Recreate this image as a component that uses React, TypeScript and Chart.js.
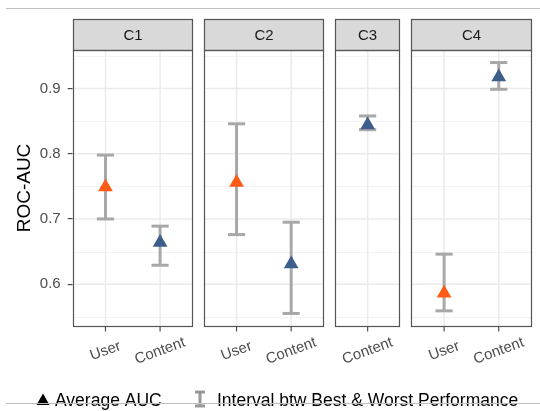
import React, { useEffect, useRef } from 'react';
import { Chart, registerables } from 'chart.js';

Chart.register(...registerables);

// ---------- data ----------
const panels = ['C1', 'C2', 'C3', 'C4'];
const categoryOrder = ['User', 'Content'];
const facet = ['C1', 'C1', 'C2', 'C2', 'C3', 'C4', 'C4'];
const source = ['User', 'Content', 'User', 'Content', 'Content', 'User', 'Content'];
const avgAUC = [0.749, 0.664, 0.756, 0.631, 0.844, 0.586, 0.918];
const bestAUC = [0.798, 0.689, 0.846, 0.695, 0.858, 0.646, 0.94];
const worstAUC = [0.7, 0.629, 0.676, 0.555, 0.837, 0.559, 0.899];
const yTicks = [0.6, 0.7, 0.8, 0.9];
const yTitle = 'ROC-AUC';
const legendLabels = ['Average AUC', 'Interval btw Best & Worst Performance'];
const groupColors: Record<string, string> = { User: '#FF5B17', Content: '#3D5D8A' };

// ---------- layout helpers ----------
const FONT = "'Liberation Sans', Arial, Helvetica, sans-serif";
const GAP = 0.2;
const EXPAND = 0.6;

type Range = { name: string; start: number; end: number; cats: { label: string; x: number }[] };

function buildLayout() {
  const ranges: Range[] = [];
  const xOf: number[] = new Array(facet.length);
  let cursor = 0;
  panels.forEach((p) => {
    const cats = categoryOrder.filter((c) => facet.some((f, i) => f === p && source[i] === c));
    const start = cursor;
    facet.forEach((f, i) => {
      if (f === p) xOf[i] = start + EXPAND + cats.indexOf(source[i]);
    });
    const end = start + (cats.length - 1) + 2 * EXPAND;
    ranges.push({ name: p, start, end, cats: cats.map((c, j) => ({ label: c, x: start + EXPAND + j })) });
    cursor = end + GAP;
  });
  return { ranges, xOf, xMax: cursor - GAP };
}

const layout = buildLayout();
const yLo = Math.min(...worstAUC);
const yHi = Math.max(...bestAUC);
const yPad = (yHi - yLo) * 0.05;
const yMin = yLo - yPad;
const yMax = yHi + yPad;
const minorTicks: number[] = [];
{
  const step = yTicks[1] - yTicks[0];
  minorTicks.push(yTicks[0] - step / 2);
  for (let i = 0; i < yTicks.length - 1; i++) minorTicks.push((yTicks[i] + yTicks[i + 1]) / 2);
  minorTicks.push(yTicks[yTicks.length - 1] + step / 2);
}

function line(ctx: CanvasRenderingContext2D, x1: number, y1: number, x2: number, y2: number) {
  ctx.beginPath();
  ctx.moveTo(x1, y1);
  ctx.lineTo(x2, y2);
  ctx.stroke();
}

const facetPlugin = {
  id: 'facets',
  beforeDatasetsDraw(chart: any) {
    const { ctx, chartArea: a, scales } = chart;
    const x = scales.x;
    const y = scales.y;
    ctx.save();
    layout.ranges.forEach((r) => {
      const x0 = x.getPixelForValue(r.start);
      const x1 = x.getPixelForValue(r.end);
      ctx.fillStyle = '#ffffff';
      ctx.fillRect(x0, a.top, x1 - x0, a.bottom - a.top);
      ctx.strokeStyle = '#f3f3f3';
      ctx.lineWidth = 1;
      minorTicks.forEach((v) => {
        const py = Math.round(y.getPixelForValue(v)) + 0.5;
        if (py > a.top && py < a.bottom) line(ctx, x0, py, x1, py);
      });
      ctx.strokeStyle = '#ebebeb';
      ctx.lineWidth = 1.5;
      yTicks.forEach((v) => {
        const py = y.getPixelForValue(v);
        line(ctx, x0, py, x1, py);
      });
      r.cats.forEach((c) => {
        const px = x.getPixelForValue(c.x);
        line(ctx, px, a.top, px, a.bottom);
      });
    });
    // error bars
    ctx.strokeStyle = '#a8a8a8';
    ctx.lineWidth = 3;
    ctx.lineCap = 'butt';
    facet.forEach((_, i) => {
      const px = x.getPixelForValue(layout.xOf[i]);
      const pt = y.getPixelForValue(bestAUC[i]);
      const pb = y.getPixelForValue(worstAUC[i]);
      line(ctx, px, pt, px, pb);
      line(ctx, px - 8.6, pt, px + 8.6, pt);
      line(ctx, px - 8.6, pb, px + 8.6, pb);
    });
    ctx.restore();
  },
  afterDatasetsDraw(chart: any) {
    const { ctx, chartArea: a, scales } = chart;
    const x = scales.x;
    ctx.save();
    const stripTop = 19.5;
    layout.ranges.forEach((r) => {
      const x0 = Math.round(x.getPixelForValue(r.start)) + 0.5;
      const x1 = Math.round(x.getPixelForValue(r.end)) - 0.5;
      const top = Math.round(a.top) + 0.5;
      const bottom = Math.round(a.bottom) + 0.5;
      // strip
      ctx.fillStyle = '#d9d9d9';
      ctx.fillRect(x0, stripTop, x1 - x0, top - stripTop);
      ctx.strokeStyle = '#555555';
      ctx.lineWidth = 1.2;
      ctx.strokeRect(x0, stripTop, x1 - x0, top - stripTop);
      ctx.fillStyle = '#1a1a1a';
      ctx.font = `15px ${FONT}`;
      ctx.textAlign = 'center';
      ctx.textBaseline = 'middle';
      ctx.fillText(r.name, (x0 + x1) / 2, (stripTop + top) / 2 + 0.5);
      // panel border
      ctx.strokeRect(x0, top, x1 - x0, bottom - top);
      // x ticks and labels
      r.cats.forEach((c) => {
        const px = x.getPixelForValue(c.x);
        ctx.strokeStyle = '#4d4d4d';
        ctx.lineWidth = 1.2;
        line(ctx, px, bottom, px, bottom + 5);
        ctx.save();
        ctx.translate(px, 351);
        ctx.rotate((-20 * Math.PI) / 180);
        ctx.fillStyle = '#4d4d4d';
        ctx.font = `15px ${FONT}`;
        ctx.textAlign = 'center';
        ctx.textBaseline = 'middle';
        ctx.fillText(c.label, 0, 0);
        ctx.restore();
      });
    });
    // y title
    ctx.save();
    ctx.translate(25, (a.top + a.bottom) / 2);
    ctx.rotate(-Math.PI / 2);
    ctx.fillStyle = '#000000';
    ctx.font = `19px ${FONT}`;
    ctx.textAlign = 'center';
    ctx.textBaseline = 'middle';
    ctx.fillText(yTitle, 0, 0);
    ctx.restore();

    // legend
    ctx.fillStyle = '#000000';
    ctx.beginPath();
    ctx.moveTo(43, 393.5);
    ctx.lineTo(49.5, 405);
    ctx.lineTo(36.5, 405);
    ctx.closePath();
    ctx.fill();
    ctx.font = `17.5px ${FONT}`;
    ctx.textAlign = 'left';
    ctx.textBaseline = 'alphabetic';
    ctx.fillText(legendLabels[0], 55, 406);
    ctx.strokeStyle = '#999999';
    ctx.lineWidth = 3;
    line(ctx, 200, 391, 200, 407);
    line(ctx, 195, 392, 205, 392);
    line(ctx, 195, 406, 205, 406);
    ctx.fillStyle = '#000000';
    ctx.fillText(legendLabels[1], 217, 406);

    // frame lines
    ctx.strokeStyle = '#bdbdbd';
    ctx.lineWidth = 1;
    line(ctx, 6, 8.5, 540, 8.5);
    line(ctx, 6, 403.5, 540, 403.5);
    ctx.restore();
  },
};

export default function App() {
  const ref = useRef<HTMLCanvasElement | null>(null);
  useEffect(() => {
    if (!ref.current) return;
    const datasets = categoryOrder.map((g) => ({
      label: g,
      data: facet
        .map((_, i) => i)
        .filter((i) => source[i] === g)
        .map((i) => ({ x: layout.xOf[i], y: avgAUC[i] })),
      pointStyle: 'triangle' as const,
      pointRadius: 8.5,
      pointHoverRadius: 8.5,
      backgroundColor: groupColors[g],
      borderColor: groupColors[g],
      borderWidth: 0,
      showLine: false,
    }));
    const chart = new Chart(ref.current, {
      type: 'scatter',
      data: { datasets },
      options: {
        animation: false,
        responsive: false,
        devicePixelRatio: 1,
        layout: { padding: { left: 0, right: 4, top: 50, bottom: 85 } },
        plugins: { legend: { display: false }, tooltip: { enabled: false } },
        scales: {
          x: { type: 'linear', min: 0, max: layout.xMax, display: false },
          y: {
            type: 'linear',
            min: yMin,
            max: yMax,
            afterBuildTicks: (s: any) => {
              s.ticks = yTicks.map((v) => ({ value: v }));
            },
            afterFit: (s: any) => {
              s.width = 72.7;
            },
            border: { display: false },
            grid: {
              display: true,
              drawOnChartArea: false,
              drawTicks: true,
              tickLength: 5,
              color: '#4d4d4d',
              lineWidth: 1.2,
            },
            ticks: {
              padding: 7,
              color: '#4d4d4d',
              font: { family: FONT, size: 15 },
              callback: (v: any) => Number(v).toFixed(1),
            },
          },
        },
      },
      plugins: [facetPlugin],
    });
    return () => chart.destroy();
  }, []);
  return (
    <div style={{ position: 'fixed', left: 0, top: 0, width: 540, height: 411, background: '#fff' }}>
      <canvas ref={ref} width={540} height={411} style={{ display: 'block', width: 540, height: 411 }} />
    </div>
  );
}
